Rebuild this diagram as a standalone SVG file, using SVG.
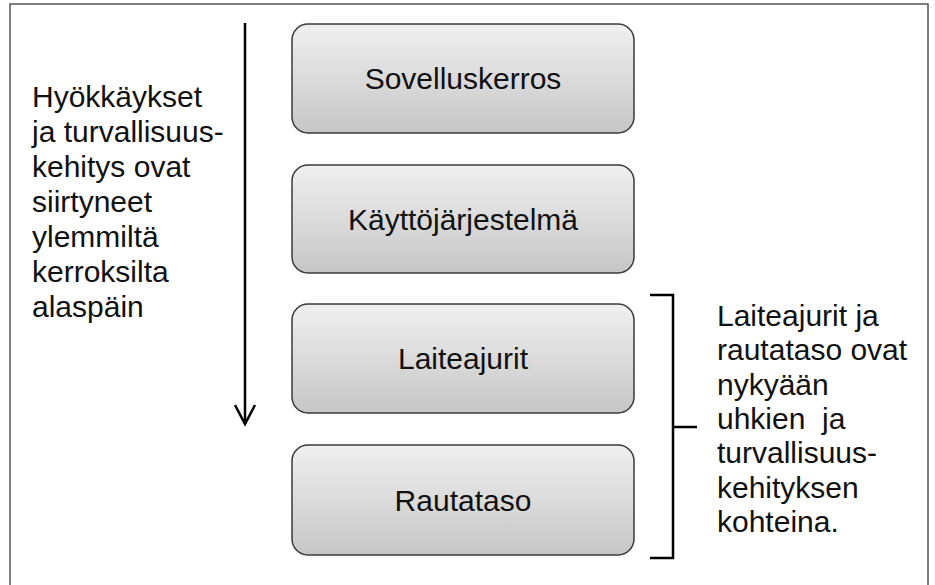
<svg xmlns="http://www.w3.org/2000/svg" width="935" height="585" viewBox="0 0 935 585">
  <defs>
    <linearGradient id="boxGrad" x1="0" y1="0" x2="0" y2="1">
      <stop offset="0" stop-color="#f0f0f0"/>
      <stop offset="1" stop-color="#c6c6c6"/>
    </linearGradient>
    <style>
      .box { fill: url(#boxGrad); stroke: #3a3a3a; stroke-width: 1.5; }
      .lbl { font-family: "Liberation Sans", Arial, sans-serif; font-size: 30px; fill: #111; text-anchor: middle; }
      .side { font-family: "Liberation Sans", Arial, sans-serif; font-size: 30px; fill: #111; }
      .conn { fill: none; stroke: #000; stroke-width: 2.5; }
    </style>
  </defs>
  <rect width="935" height="585" fill="#fff"/>
  <rect x="10" y="4" width="918" height="600" fill="none" stroke="#555" stroke-width="1.5"/>

  <g id="node-sovelluskerros">
    <rect class="box" x="292" y="24" width="342" height="109" rx="16"/>
    <text class="lbl" x="463" y="89">Sovelluskerros</text>
  </g>
  <g id="node-kayttojarjestelma">
    <rect class="box" x="292" y="165" width="342" height="108" rx="16"/>
    <text class="lbl" x="463" y="230">Käyttöjärjestelmä</text>
  </g>
  <g id="node-laiteajurit">
    <rect class="box" x="292" y="304" width="342" height="109" rx="16"/>
    <text class="lbl" x="463" y="369">Laiteajurit</text>
  </g>
  <g id="node-rautataso">
    <rect class="box" x="292" y="445" width="342" height="110" rx="16"/>
    <text class="lbl" x="463" y="511">Rautataso</text>
  </g>

  <g id="connectors">
    <path class="conn" d="M245,23 V424"/>
    <path class="conn" d="M235,405 L245,424 L255,405"/>
    <path class="conn" d="M650,295 H673 V558 H650 M673,427 H697"/>
  </g>

  <g id="left-note">
    <text class="side" x="32">
      <tspan x="32" y="107">Hyökkäykset</tspan>
      <tspan x="32" y="142">ja turvallisuus-</tspan>
      <tspan x="32" y="177">kehitys ovat</tspan>
      <tspan x="32" y="212">siirtyneet</tspan>
      <tspan x="32" y="247">ylemmiltä</tspan>
      <tspan x="32" y="282">kerroksilta</tspan>
      <tspan x="32" y="317">alaspäin</tspan>
    </text>
  </g>
  <g id="right-note">
    <text class="side" x="717" xml:space="preserve">
      <tspan x="717" y="326">Laiteajurit ja</tspan>
      <tspan x="717" y="360">rautataso ovat</tspan>
      <tspan x="717" y="395">nykyään</tspan>
      <tspan x="717" y="429">uhkien  ja</tspan>
      <tspan x="717" y="463">turvallisuus-</tspan>
      <tspan x="717" y="498">kehityksen</tspan>
      <tspan x="717" y="532">kohteina.</tspan>
    </text>
  </g>
</svg>
